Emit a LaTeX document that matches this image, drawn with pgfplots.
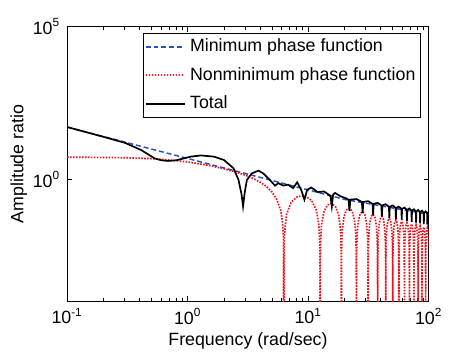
\documentclass[border=0pt]{standalone}
\usepackage{fontspec}
\setmainfont{Liberation Sans}
\usepackage{pgfplots}
\pgfplotsset{compat=1.18}
\definecolor{mblue}{RGB}{40,80,200}
\definecolor{mred}{RGB}{232,20,30}
\begin{document}
\begin{tikzpicture}
\begin{loglogaxis}[
 width=183pt, height=139pt, scale only axis,
 xmin=0.1, xmax=100, ymin=1e-4, ymax=1e5,
 xtick={0.1,1,10,100},
 xticklabels={10\textsuperscript{-1},10\textsuperscript{0},10\textsuperscript{1},10\textsuperscript{2}},
 ytick={1,1e5},
 yticklabels={10\textsuperscript{0},10\textsuperscript{5}},
 yminorticks=false,
 major tick length=2.5pt, minor tick length=1.5pt,
 tick style={black, line width=0.4pt},
 axis line style={line width=0.5pt},
 tick label style={font=\fontsize{9}{10}\selectfont},
 xlabel={Frequency (rad/sec)},
 ylabel={Amplitude ratio},
 every axis x label/.style={at={(axis description cs:0.5,-0.144)}, anchor=center, font=\fontsize{9}{10}\selectfont},
 every axis y label/.style={at={(axis description cs:-0.134,0.5)}, anchor=center, rotate=90, font=\fontsize{9}{10}\selectfont},
 legend cell align=left,
 legend style={at={(axis description cs:0.978,0.978)}, anchor=north east, font=\fontsize{9}{10}\selectfont, inner xsep=0.5pt, inner ysep=1pt, row sep=2.4pt},
]
\addplot[mblue, line width=0.75pt, dash pattern=on 2.5pt off 1.5pt,
 legend image code/.code={\draw[mblue, line width=0.75pt, dash pattern=on 2.5pt off 1.5pt] (0pt,0pt) -- (20pt,0pt);}] coordinates {
(0.1,51.3) (1,4.79) (10,0.447) (20,0.219) (50,0.115) (100,0.0708)};
\addlegendentry{Minimum phase function}
\addplot[mred, line width=0.85pt, dash pattern=on 0.8pt off 0.7pt,
 legend image code/.code={\draw[color=mred, line width=1pt, line cap=round, dash pattern=on 0.01pt off 1.5pt] (0.5pt,0pt) -- (20pt,0pt);}] coordinates {
(0.1,5.27) (0.2,5.19) (0.3,5.07) (0.5,4.72) (0.7,4.31) (1,3.69) (1.5,2.83) (2,2.20) (2.5,1.729) (3,1.359) (3.5,1.056) (4,0.798) (4.5,0.5755) (5,0.3815) (5.5,0.2135) (5.9,0.0974) (6.1,0.0447) (6.22,0.0150) (6.2832,1e-7)
(6.346,0.01455) (6.597,0.06896) (7.226,0.1785) (8.168,0.2738) (9.425,0.2858) (10.681,0.2003) (11.624,0.1023) (12.252,0.03323) (12.503,0.00652) (12.566,1e-7)
(12.629,0.00645) (12.880,0.03146) (13.509,0.08667) (14.451,0.1436) (15.708,0.16236) (16.965,0.1211) (17.907,0.06415) (18.535,0.02131) (18.787,0.00422) (18.850,1e-7)
(18.912,0.00418) (19.164,0.0206) (19.792,0.0578) (20.735,0.0981) (21.991,0.11407) (23.248,0.0871) (24.190,0.0469) (24.819,0.01576) (25.070,0.00313) (25.133,1e-7)
(25.196,0.0031) (25.447,0.0153) (26.075,0.04335) (27.018,0.07456) (28.274,0.08807) (29.531,0.06821) (30.473,0.0371) (31.102,0.01252) (31.353,0.00249) (31.416,1e-7)
(31.479,0.00248) (31.730,0.01223) (32.358,0.03482) (33.301,0.0603) (34.558,0.07182) (35.814,0.05607) (36.757,0.03066) (37.385,0.01038) (37.636,0.00207) (37.699,1e-7)
(37.762,0.00206) (38.013,0.01019) (38.642,0.0291) (39.584,0.05062) (40.841,0.06065) (42.097,0.0476) (43.040,0.02613) (43.668,0.00887) (43.919,0.00177) (43.982,1e-7)
(44.045,0.00176) (44.296,0.00873) (44.925,0.025) (45.867,0.04364) (47.124,0.0525) (48.381,0.04137) (49.323,0.02277) (49.951,0.00775) (50.203,0.00155) (50.265,1e-7)
(50.328,0.00154) (50.580,0.00764) (51.208,0.02192) (52.150,0.03835) (53.407,0.04629) (54.664,0.03658) (55.606,0.02018) (56.235,0.00688) (56.486,0.00137) (56.549,1e-7)
(56.611,0.00137) (56.863,0.0068) (57.491,0.01951) (58.434,0.03421) (59.690,0.0414) (60.947,0.0328) (61.889,0.01813) (62.518,0.00618) (62.769,0.00124) (62.832,1e-7)
(62.895,0.00123) (63.146,0.00612) (63.774,0.01758) (64.717,0.03088) (65.973,0.03744) (67.230,0.02972) (68.173,0.01645) (68.801,0.00561) (69.052,0.00112) (69.115,1e-7)
(69.178,0.00112) (69.429,0.00556) (70.058,0.01601) (71.000,0.02814) (72.257,0.03418) (73.513,0.02718) (74.456,0.01506) (75.084,0.00515) (75.336,0.00103) (75.398,1e-7)
(75.461,0.00103) (75.712,0.0051) (76.341,0.01469) (77.283,0.02586) (78.540,0.03145) (79.796,0.02504) (80.739,0.01389) (81.367,0.00475) (81.619,0.00095) (81.681,1e-7)
(81.744,0.00095) (81.996,0.00471) (82.624,0.01357) (83.566,0.02391) (84.823,0.02912) (86.080,0.02321) (87.022,0.01289) (87.650,0.00441) (87.902,0.00088) (87.965,1e-7)
(88.027,0.00088) (88.279,0.00438) (88.907,0.01261) (89.850,0.02224) (91.106,0.02711) (92.363,0.02163) (93.305,0.01202) (93.934,0.00411) (94.185,0.00082) (94.248,1e-7)
(94.311,0.00082) (94.562,0.00409) (95.190,0.01178) (96.133,0.02078) (97.389,0.02536) (98.646,0.02026) (99.588,0.01126) (100,0.00648)};
\addlegendentry{Nonminimum phase function}
\addplot[black, line width=0.85pt,
 legend image code/.code={\draw[black, line width=0.85pt] (0pt,0pt) -- (20pt,0pt);}] coordinates {
(0.1,51.3) (0.161,30.9) (0.2,24.5) (0.303,15.5) (0.414,8.91) (0.533,4.79) (0.606,4.17) (0.685,3.98) (0.8,4.17) (1.06,5.5) (1.29,6.03) (1.65,5.5) (2.0,4.27) (2.4,2.29) (2.64,0.955) (2.8,0.316) (2.88,0.129) (2.97,0.355) (3.1,0.955) (3.4,1.55) (3.87,1.91) (4.24,1.55) (4.8,0.955) (5.3,0.617) (5.65,0.741) (6.2,0.617) (6.8,0.661) (7.5,0.513) (8.1,0.794) (8.75,0.447) (9.3,0.214) (9.8,0.447) (10.6,0.537) (12.0,0.380) (13.5,0.398) (14.9,0.309) (15.3,0.282) (15.7,0.129) (16.1,0.316) (16.7,0.355) (18.6,0.275) (20.5,0.240)
(21.59,0.215) (21.99,0.0921) (22.39,0.215) (25.13,0.224) (27.87,0.1804) (28.27,0.0773) (28.67,0.1804) (31.42,0.1914) (34.16,0.1568) (34.56,0.0672) (34.96,0.1568) (37.70,0.1684) (40.44,0.1393) (40.84,0.0597) (41.24,0.1393) (43.98,0.1511) (46.72,0.126) (47.12,0.054) (47.52,0.126) (50.27,0.1377) (53.01,0.1155) (53.41,0.0495) (53.81,0.1155) (56.55,0.1268) (59.29,0.1069) (59.69,0.0458) (60.09,0.1069) (62.83,0.1178) (65.57,0.0996) (65.97,0.0427) (66.37,0.0996) (69.12,0.1102) (71.86,0.0935) (72.26,0.0401) (72.66,0.0935) (75.40,0.1038) (78.14,0.0882) (78.54,0.0378) (78.94,0.0882) (81.68,0.0981) (84.42,0.0836) (84.82,0.0358) (85.22,0.0836) (87.96,0.0931) (90.71,0.0795) (91.11,0.0341) (91.51,0.0795) (94.25,0.0887) (96.99,0.0759) (97.39,0.0325) (97.79,0.0759) (100,0.0814)};
\addlegendentry{Total}
\end{loglogaxis}
\path ([shift={(-34pt,-25.5pt)}]current axis.south west) rectangle ([shift={(7.5pt,13.5pt)}]current axis.north east);
\end{tikzpicture}
\end{document}
